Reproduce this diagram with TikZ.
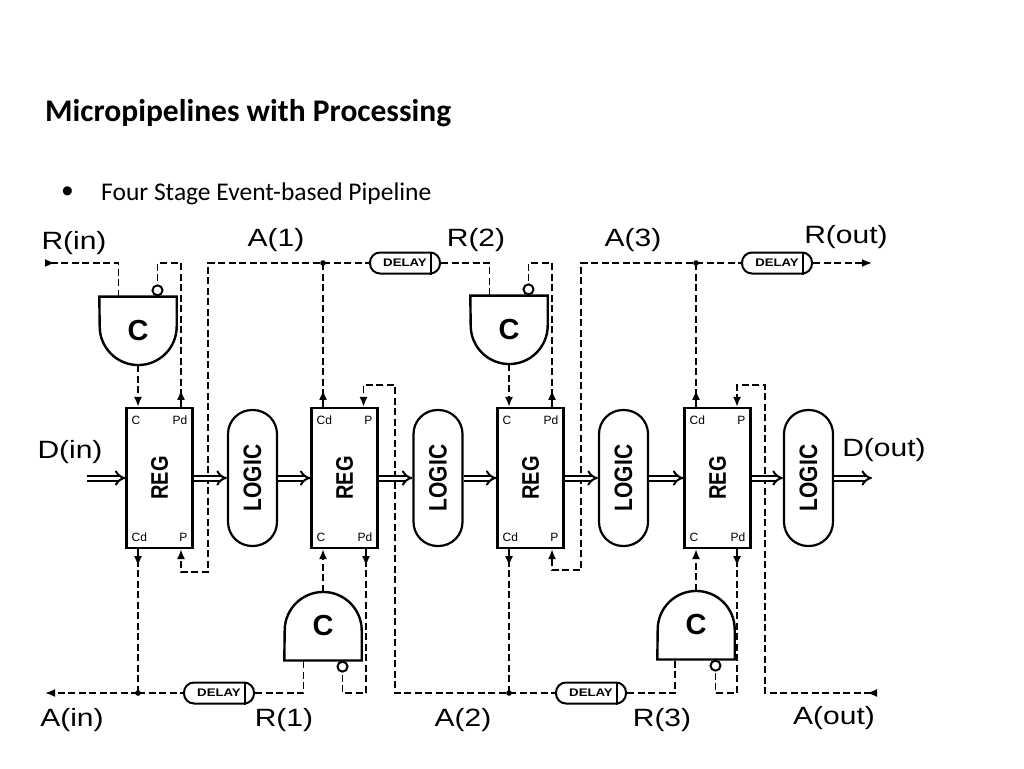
\documentclass[tikz,border=0pt]{standalone}
\usepackage{fontspec}
\usepackage{graphicx}
\setmainfont{Carlito}
\newfontfamily\diagfont{Liberation Sans}
\usetikzlibrary{arrows.meta,decorations.markings}
\newcommand{\wide}[1]{\scalebox{1.2}[1]{#1}}
\tikzset{
 sig/.style={line width=1.8pt, dash pattern=on 7pt off 3.5pt},
 tipd/.style={-{Latex[length=10pt,width=8pt]}},
 tipstart/.style={{Latex[length=10pt,width=8pt,reversed]}-},
 tipboth/.style={{Latex[length=10pt,width=8pt,reversed]}-{Latex[length=10pt,width=8pt]}},
 midarr/.style={postaction={decorate},decoration={markings,mark=at position #1 with {\arrow{Latex[length=10pt,width=8pt]}}}},
 regbox/.style={draw,line width=2.2pt,minimum width=66pt,minimum height=140pt,inner sep=0pt,font=\diagfont\bfseries\fontsize{20}{20}\selectfont},
 logicbox/.style={draw,line width=2.2pt,rounded corners=24pt,minimum width=49pt,minimum height=136pt,inner sep=0pt,font=\diagfont\bfseries\fontsize{21}{21}\selectfont},
 cel/.style={minimum width=77pt,minimum height=68.5pt,inner sep=0pt,font=\diagfont\bfseries\fontsize{29}{29}\selectfont},
 shapeline/.style={line width=2.4pt},
 bub/.style={draw,circle,line width=2pt,minimum size=10pt,inner sep=0pt},
 dly/.style={draw,line width=2pt,rounded corners=10pt,minimum width=70pt,minimum height=21pt,inner sep=0pt,font=\diagfont\bfseries\fontsize{11}{11}\selectfont},
 lbl/.style={font=\diagfont\fontsize{25}{25}\selectfont,inner sep=0pt},
 port/.style={font=\diagfont\fontsize{12}{12}\selectfont,inner sep=0pt},
 data/.style={double,line width=2pt,double distance=3pt,-{Implies}},
}
\begin{document}
\begin{tikzpicture}[x=1pt,y=-1pt]
\fill[white] (0,0) rectangle (1024,768);
\useasboundingbox (0,0) rectangle (1024,768);

% title and bullet
\node[anchor=base west,font=\bfseries\fontsize{31.5}{31.5}\selectfont,inner sep=0pt] (title) at (45,121) {Micropipelines with Processing};
\node[font=\fontsize{25.5}{25.5}\selectfont,inner sep=0pt] (bul) at (67.5,193) {\textbullet};
\node[anchor=base west,font=\fontsize{25.5}{25.5}\selectfont,inner sep=0pt] (sub) at (101,200) {Four Stage Event-based Pipeline};

% registers and logic
\node[regbox] (r1) at (159.5,478) {\wide{\rotatebox{90}{REG}}};
\node[regbox] (r2) at (344.5,478) {\wide{\rotatebox{90}{REG}}};
\node[regbox] (r3) at (530.5,478) {\wide{\rotatebox{90}{REG}}};
\node[regbox] (r4) at (717.5,478) {\wide{\rotatebox{90}{REG}}};
\node[logicbox] (l1) at (252.5,478) {\wide{\rotatebox{90}{LOGIC}}};
\node[logicbox] (l2) at (438,478) {\wide{\rotatebox{90}{LOGIC}}};
\node[logicbox] (l3) at (623.5,478) {\wide{\rotatebox{90}{LOGIC}}};
\node[logicbox] (l4) at (808.5,478) {\wide{\rotatebox{90}{LOGIC}}};

% port labels
\node[port,anchor=west] (p1a) at ([xshift=6pt,yshift=-13pt]r1.north west) {C};
\node[port,anchor=east] (p1b) at ([xshift=-6pt,yshift=-13pt]r1.north east) {Pd};
\node[port,anchor=west] (p1c) at ([xshift=6pt,yshift=12pt]r1.south west) {Cd};
\node[port,anchor=east] (p1d) at ([xshift=-6pt,yshift=12pt]r1.south east) {P};
\node[port,anchor=west] (p2a) at ([xshift=6pt,yshift=-13pt]r2.north west) {Cd};
\node[port,anchor=east] (p2b) at ([xshift=-6pt,yshift=-13pt]r2.north east) {P};
\node[port,anchor=west] (p2c) at ([xshift=6pt,yshift=12pt]r2.south west) {C};
\node[port,anchor=east] (p2d) at ([xshift=-6pt,yshift=12pt]r2.south east) {Pd};
\node[port,anchor=west] (p3a) at ([xshift=6pt,yshift=-13pt]r3.north west) {C};
\node[port,anchor=east] (p3b) at ([xshift=-6pt,yshift=-13pt]r3.north east) {Pd};
\node[port,anchor=west] (p3c) at ([xshift=6pt,yshift=12pt]r3.south west) {Cd};
\node[port,anchor=east] (p3d) at ([xshift=-6pt,yshift=12pt]r3.south east) {P};
\node[port,anchor=west] (p4a) at ([xshift=6pt,yshift=-13pt]r4.north west) {Cd};
\node[port,anchor=east] (p4b) at ([xshift=-6pt,yshift=-13pt]r4.north east) {P};
\node[port,anchor=west] (p4c) at ([xshift=6pt,yshift=12pt]r4.south west) {C};
\node[port,anchor=east] (p4d) at ([xshift=-6pt,yshift=12pt]r4.south east) {Pd};

% port coordinates
\coordinate (r1tl) at ([xshift=-21.5pt]r1.north); \coordinate (r1tr) at ([xshift=21.5pt]r1.north);
\coordinate (r1bl) at ([xshift=-21.5pt]r1.south); \coordinate (r1br) at ([xshift=21.5pt]r1.south);
\coordinate (r2tl) at ([xshift=-21.5pt]r2.north); \coordinate (r2tr) at ([xshift=19pt]r2.north);
\coordinate (r2bl) at ([xshift=-21.5pt]r2.south); \coordinate (r2br) at ([xshift=21.5pt]r2.south);
\coordinate (r3tl) at ([xshift=-21.5pt]r3.north); \coordinate (r3tr) at ([xshift=21.5pt]r3.north);
\coordinate (r3bl) at ([xshift=-21.5pt]r3.south); \coordinate (r3br) at ([xshift=21.5pt]r3.south);
\coordinate (r4tl) at ([xshift=-21.5pt]r4.north); \coordinate (r4tr) at ([xshift=19.5pt]r4.north);
\coordinate (r4bl) at ([xshift=-21.5pt]r4.south); \coordinate (r4br) at ([xshift=19.5pt]r4.south);

% C-elements
\node[cel] (c1) at (138,331) {C};
\draw[shapeline] (c1.north west) -- (c1.north east) -- ++(0,30) arc[start angle=0,end angle=180,radius=38.5] -- cycle;
\node[cel] (c2) at (509,330) {C};
\draw[shapeline] (c2.north west) -- (c2.north east) -- ++(0,30) arc[start angle=0,end angle=180,radius=38.5] -- cycle;
\node[cel] (c3) at (323,626) {C};
\draw[shapeline] (c3.south west) -- (c3.south east) -- ++(0,-30) arc[start angle=0,end angle=-180,radius=38.5] -- cycle;
\node[cel] (c4) at (696,625) {C};
\draw[shapeline] (c4.south west) -- (c4.south east) -- ++(0,-30) arc[start angle=0,end angle=-180,radius=38.5] -- cycle;
\node[bub] (b1) at ([xshift=19.5pt,yshift=6.2pt]c1.north) {};
\node[bub] (b2) at ([xshift=19.5pt,yshift=6.2pt]c2.north) {};
\node[bub] (b3) at ([xshift=19.5pt,yshift=-6.2pt]c3.south) {};
\node[bub] (b4) at ([xshift=19.5pt,yshift=-6.2pt]c4.south) {};
\coordinate (c1in) at ([xshift=-19.5pt]c1.north);
\coordinate (c2in) at ([xshift=-19.5pt]c2.north);
\coordinate (c3in) at ([xshift=-19.5pt]c3.south);
\coordinate (c4in) at ([xshift=-21pt]c4.south);

% delays
\node[dly] (d1) at (405,263) {\wide{DELAY}\hspace{9pt}};
\node[dly] (d2) at (777,263) {\wide{DELAY}\hspace{9pt}};
\node[dly] (d3) at (219,693) {\wide{DELAY}\hspace{9pt}};
\node[dly] (d4) at (591,693) {\wide{DELAY}\hspace{9pt}};
\foreach \d in {d1,d2,d3,d4}{
  \draw[line width=2pt] ([xshift=-10pt]\d.north east) -- ([xshift=-10pt]\d.south east);
}

% free ends and bends
\coordinate (rin) at (45,263);
\coordinate (rout) at (872,263);
\coordinate (ain) at (45,693);
\coordinate (aout) at (877,693);
\coordinate (din) at (87,478);
\coordinate (dout) at (872,478);
\coordinate (a1c) at (208,263); \coordinate (a1b) at (208,572);
\coordinate (a3c) at (581,263); \coordinate (a3b) at (581,570);
\coordinate (a2b) at (395,693); \coordinate (a2c) at (395,385);
\coordinate (aob) at (765,693); \coordinate (aoc) at (765,385);
\coordinate (j1) at (r2tl |- rin);
\coordinate (j3) at (r4tl |- rin);
\coordinate (j0) at (r1bl |- ain);
\coordinate (j2) at (r3bl |- ain);

% top signals
\draw[sig,tipstart] (rin) -| (c1in);
\draw[sig,midarr=17pt] (r1tr) -- (r1tr |- rin) -| (b1.north);
\draw[sig,tipd] (c1.south) -- (r1tl);
\draw[sig,midarr=17pt,tipd] (r2tl) -- (j1) -- (a1c) -- (a1b) -| (r1br);
\draw[sig] (j1) -- (d1.west);
\draw[sig] (d1.east) -| (c2in);
\draw[sig,midarr=17pt] (r3tr) -- (r3tr |- rin) -| (b2.north);
\draw[sig,tipd] (c2.south) -- (r3tl);
\draw[sig,midarr=17pt,tipd] (r4tl) -- (j3) -- (a3c) -- (a3b) -| (r3br);
\draw[sig] (j3) -- (d2.west);
\draw[sig,tipd] (d2.east) -- (rout);

% bottom signals
\draw[sig,midarr=17pt] (r1bl) -- (j0);
\draw[sig,tipd] (j0) -- (ain);
\draw[sig] (j0) -- (d3.west);
\draw[sig] (d3.east) -| (c3in);
\draw[sig,midarr=17pt] (r2br) -- (r2br |- ain) -| (b3.south);
\draw[sig,tipd] (c3.north) -- (r2bl);
\draw[sig,midarr=17pt,tipd] (r3bl) -- (j2) -- (a2b) -- (a2c) -| (r2tr);
\draw[sig] (j2) -- (d4.west);
\draw[sig] (d4.east) -| (c4in);
\draw[sig,midarr=17pt] (r4br) -- (r4br |- ain) -| (b4.south);
\draw[sig,tipd] (c4.north) -- (r4bl);
\draw[sig,tipboth] (aout) -- (aob) -- (aoc) -| (r4tr);

% junction dots
\foreach \j in {j0,j1,j2,j3}{ \fill (\j) circle (2.8); }

% data path
\draw[data] (din) -- (r1.west);
\draw[data] (r1.east) -- (l1.west);
\draw[data] (l1.east) -- (r2.west);
\draw[data] (r2.east) -- (l2.west);
\draw[data] (l2.east) -- (r3.west);
\draw[data] (r3.east) -- (l3.west);
\draw[data] (l3.east) -- (r4.west);
\draw[data] (r4.east) -- (l4.west);
\draw[data] (l4.east) -- (dout);

% signal labels
\node[lbl] (Lrin) at (74,243) {\wide{R(in)}};
\node[lbl] (La1) at (276,240) {\wide{A(1)}};
\node[lbl] (Lr2) at (476,240) {\wide{R(2)}};
\node[lbl] (La3) at (633,240) {\wide{A(3)}};
\node[lbl] (Lrout) at (846,237) {\wide{R(out)}};
\node[lbl] (Ldin) at (70,452) {\wide{D(in)}};
\node[lbl] (Ldout) at (884,450) {\wide{D(out)}};
\node[lbl] (Lain) at (72,720) {\wide{A(in)}};
\node[lbl] (Lr1) at (284,720) {\wide{R(1)}};
\node[lbl] (La2) at (463,720) {\wide{A(2)}};
\node[lbl] (Lr3) at (662,720) {\wide{R(3)}};
\node[lbl] (Laout) at (834,718) {\wide{A(out)}};
\end{tikzpicture}
\end{document}
